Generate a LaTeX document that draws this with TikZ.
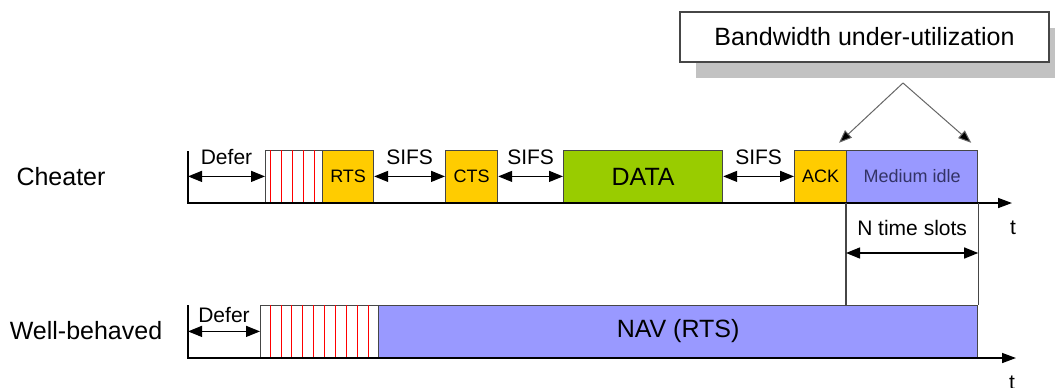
\documentclass[tikz,border=0pt]{standalone}
\usepackage{fontspec}
\setmainfont{Liberation Sans}
\usetikzlibrary{arrows.meta,shadows}

\definecolor{slotyellow}{RGB}{255,204,0}
\definecolor{datagreen}{RGB}{153,204,0}
\definecolor{idleblue}{RGB}{153,153,255}
\definecolor{edgegray}{RGB}{70,70,70}
\definecolor{idletext}{RGB}{51,51,102}

\begin{document}
\begin{tikzpicture}[x=1pt,y=-1pt,
    box/.style={draw=edgegray,line width=1.2pt,minimum height=52pt,inner sep=0pt,anchor=south west},
    big/.style={font=\fontsize{25}{30}\selectfont},
    mid/.style={font=\fontsize{21}{25}\selectfont},
    small/.style={font=\fontsize{18}{22}\selectfont},
    dur/.style={line width=1.3pt,{Triangle[length=14pt,width=11pt]}-{Triangle[length=14pt,width=11pt]}},
    axis/.style={line width=1.5pt,-{Triangle[length=14pt,width=10pt]}},
    pointer/.style={gray!80!black,line width=1pt,-{Triangle[length=13pt,width=10pt,fill=black]}},
    hatch/.style={red,line width=0.8pt,shorten <=0.6pt,shorten >=0.6pt}]
    \useasboundingbox (0,0) rectangle (1055,388);

    \node[big] (cheat) at (61,177) {Cheater};
    \node[big] (well) at (86,331) {Well-behaved};

    \coordinate (t1) at (188,151);
    \coordinate (o1) at (188,203);
    \coordinate (e1) at (1012,203);
    \node[box,minimum width=57pt] (bo1) at (265,203) {};
    \node[box,fill=slotyellow,minimum width=51pt,small] (rts) at (322,203) {RTS};
    \node[box,fill=slotyellow,minimum width=52pt,small] (cts) at (445,203) {CTS};
    \node[box,fill=datagreen,minimum width=159pt,big] (data) at (563,203) {DATA};
    \node[box,fill=slotyellow,minimum width=52pt,small] (ack) at (794,203) {ACK};
    \node[box,fill=idleblue,minimum width=131pt,small,text=idletext] (idle) at (846,203) {Medium idle};
    \foreach \i in {0,...,4}
        \draw[hatch] ([xshift={5pt+11pt*\i}]bo1.south west) -- ([xshift={5pt+11pt*\i}]bo1.north west);
    \draw[axis] (t1) -- (o1) -- (e1);
    \node[mid] (ta) at (1013,228) {t};

    \draw[dur] (o1 |- bo1.west) -- (bo1.west) node[midway,above=8pt,mid] {Defer};
    \draw[dur] (rts.east) -- (cts.west) node[midway,above=8pt,mid] {SIFS};
    \draw[dur] (cts.east) -- (data.west) node[midway,above=8pt,mid] {SIFS};
    \draw[dur] (data.east) -- (ack.west) node[midway,above=8pt,mid] {SIFS};

    \node[draw=edgegray,line width=1.2pt,fill=white,minimum width=369pt,minimum height=50pt,big,
          drop shadow={shadow xshift=16pt,shadow yshift=-16pt,fill=black!24,opacity=1}] (bw) at (864.5,37) {Bandwidth under-utilization};
    \coordinate (apex) at (903,83);
    \coordinate (la) at ([shift={(-7,-7)}]idle.north west);
    \coordinate (ra) at ([shift={(-7,-7)}]idle.north east);
    \draw[pointer] (apex) -- (la);
    \draw[pointer] (apex) -- (ra);

    \coordinate (t2) at (188,305);
    \coordinate (o2) at (188,358);
    \coordinate (e2) at (1016,358);
    \node[box,minimum width=118pt] (bo2) at (260,358) {};
    \node[box,fill=idleblue,minimum width=599pt,big] (nav) at (378,358) {NAV (RTS)};
    \foreach \i in {0,...,9}
        \draw[hatch] ([xshift={10pt+10.9pt*\i}]bo2.south west) -- ([xshift={10pt+10.9pt*\i}]bo2.north west);
    \draw[axis] (t2) -- (o2) -- (e2);
    \node[mid] (tb) at (1012,383) {t};
    \draw[dur] (o2 |- bo2.west) -- (bo2.west) node[midway,above=5pt,mid] {Defer};

    \draw[edgegray,line width=1.2pt] (idle.south west) -- (idle.south west |- nav.north);
    \draw[edgegray,line width=1.2pt] (idle.south east) -- (nav.north east);
    \coordinate (n1) at ([yshift=-50pt]idle.south west);
    \draw[dur] (n1) -- (n1 -| idle.east) node[midway,above=13pt,mid] {N time slots};
\end{tikzpicture}
\end{document}
